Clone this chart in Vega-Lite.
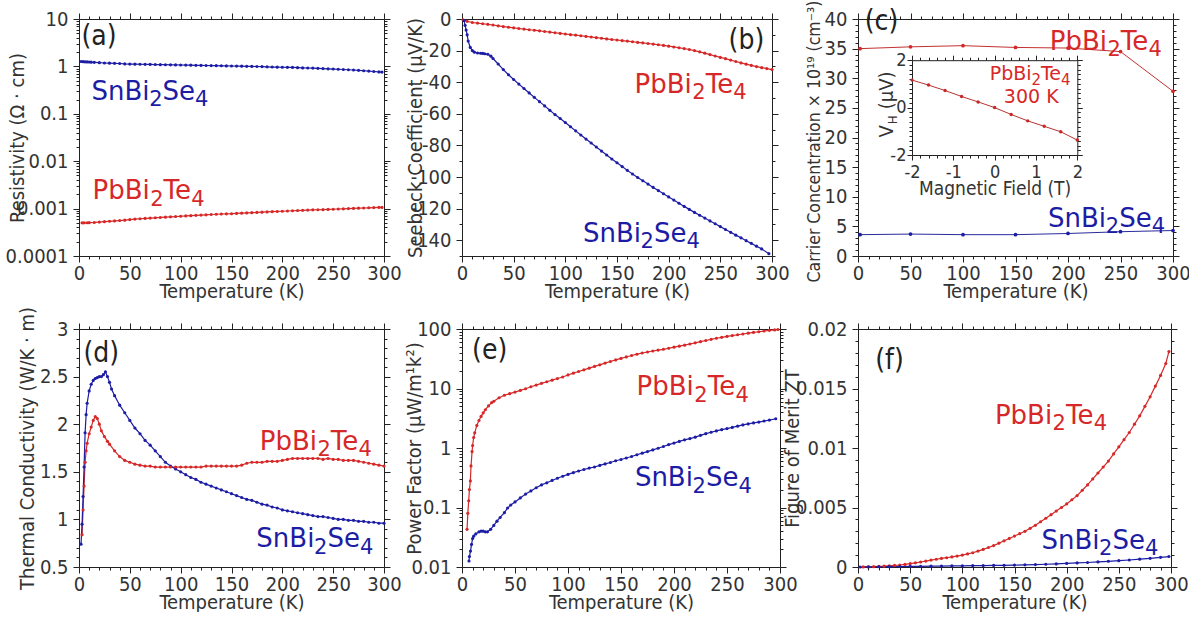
{
"$schema": "https://vega.github.io/schema/vega-lite/v6.json",
"background": "white",
"padding": {"left": 5, "top": 0, "right": 0, "bottom": 0},
"config": {
 "font": "DejaVu Sans Condensed, Liberation Sans, sans-serif",
 "view": {"stroke": null},
 "axis": {"grid": false, "ticks": true, "tickSize": 6, "labelFontSize": 20, "titleFontSize": 20, "titleFontWeight": "normal", "labelColor": "#333333", "titleColor": "#333333", "domainColor": "#222222", "tickColor": "#222222", "labelFlush": false, "labelOverlap": false, "labelBound": false, "domainWidth": 1, "tickWidth": 1},
 "axisX": {"labelPadding": 1},
 "axisY": {"labelPadding": 5}
},
"datasets": {
 "da": [
  {"s":"Sn","T":2,"v":1.27},{"s":"Sn","T":4,"v":1.26},{"s":"Sn","T":6,"v":1.25},{"s":"Sn","T":8,"v":1.245},{"s":"Sn","T":10,"v":1.24},{"s":"Sn","T":12,"v":1.23},{"s":"Sn","T":15,"v":1.22},{"s":"Sn","T":20,"v":1.2},{"s":"Sn","T":25,"v":1.18},{"s":"Sn","T":30,"v":1.17},{"s":"Sn","T":35,"v":1.16},{"s":"Sn","T":40,"v":1.15},{"s":"Sn","T":45,"v":1.13},{"s":"Sn","T":50,"v":1.12},{"s":"Sn","T":55,"v":1.115},{"s":"Sn","T":60,"v":1.11},{"s":"Sn","T":65,"v":1.105},{"s":"Sn","T":70,"v":1.1},{"s":"Sn","T":75,"v":1.095},{"s":"Sn","T":80,"v":1.09},{"s":"Sn","T":85,"v":1.085},{"s":"Sn","T":90,"v":1.08},{"s":"Sn","T":95,"v":1.075},{"s":"Sn","T":100,"v":1.07},{"s":"Sn","T":105,"v":1.065},{"s":"Sn","T":110,"v":1.06},{"s":"Sn","T":115,"v":1.055},{"s":"Sn","T":120,"v":1.05},{"s":"Sn","T":125,"v":1.045},{"s":"Sn","T":130,"v":1.04},{"s":"Sn","T":135,"v":1.035},{"s":"Sn","T":140,"v":1.03},{"s":"Sn","T":145,"v":1.025},{"s":"Sn","T":150,"v":1.02},{"s":"Sn","T":155,"v":1.015},{"s":"Sn","T":160,"v":1.01},{"s":"Sn","T":165,"v":1.005},{"s":"Sn","T":170,"v":1.0},{"s":"Sn","T":175,"v":0.995},{"s":"Sn","T":180,"v":0.99},{"s":"Sn","T":185,"v":0.98},{"s":"Sn","T":190,"v":0.97},{"s":"Sn","T":195,"v":0.965},{"s":"Sn","T":200,"v":0.96},{"s":"Sn","T":205,"v":0.955},{"s":"Sn","T":210,"v":0.95},{"s":"Sn","T":215,"v":0.94},{"s":"Sn","T":220,"v":0.93},{"s":"Sn","T":225,"v":0.925},{"s":"Sn","T":230,"v":0.92},{"s":"Sn","T":235,"v":0.91},{"s":"Sn","T":240,"v":0.9},{"s":"Sn","T":245,"v":0.89},{"s":"Sn","T":250,"v":0.88},{"s":"Sn","T":255,"v":0.87},{"s":"Sn","T":260,"v":0.86},{"s":"Sn","T":265,"v":0.85},{"s":"Sn","T":270,"v":0.84},{"s":"Sn","T":275,"v":0.825},{"s":"Sn","T":280,"v":0.81},{"s":"Sn","T":285,"v":0.795},{"s":"Sn","T":290,"v":0.78},{"s":"Sn","T":295,"v":0.765},{"s":"Sn","T":298,"v":0.76},
  {"s":"Pb","T":3,"v":0.0005},{"s":"Pb","T":5,"v":0.0005},{"s":"Pb","T":8,"v":0.000502},{"s":"Pb","T":10,"v":0.000505},{"s":"Pb","T":15,"v":0.00051},{"s":"Pb","T":20,"v":0.00052},{"s":"Pb","T":25,"v":0.00053},{"s":"Pb","T":30,"v":0.00054},{"s":"Pb","T":35,"v":0.00055},{"s":"Pb","T":40,"v":0.00056},{"s":"Pb","T":45,"v":0.00057},{"s":"Pb","T":50,"v":0.000586},{"s":"Pb","T":55,"v":0.0006},{"s":"Pb","T":60,"v":0.00061},{"s":"Pb","T":65,"v":0.00062},{"s":"Pb","T":70,"v":0.00063},{"s":"Pb","T":75,"v":0.00064},{"s":"Pb","T":80,"v":0.00065},{"s":"Pb","T":85,"v":0.00066},{"s":"Pb","T":90,"v":0.00067},{"s":"Pb","T":95,"v":0.00068},{"s":"Pb","T":100,"v":0.00069},{"s":"Pb","T":105,"v":0.0007},{"s":"Pb","T":110,"v":0.00071},{"s":"Pb","T":115,"v":0.00072},{"s":"Pb","T":120,"v":0.00073},{"s":"Pb","T":125,"v":0.00074},{"s":"Pb","T":130,"v":0.00075},{"s":"Pb","T":135,"v":0.00076},{"s":"Pb","T":140,"v":0.00077},{"s":"Pb","T":145,"v":0.000775},{"s":"Pb","T":150,"v":0.00078},{"s":"Pb","T":155,"v":0.00079},{"s":"Pb","T":160,"v":0.0008},{"s":"Pb","T":165,"v":0.00081},{"s":"Pb","T":170,"v":0.00082},{"s":"Pb","T":175,"v":0.00083},{"s":"Pb","T":180,"v":0.00084},{"s":"Pb","T":185,"v":0.00085},{"s":"Pb","T":190,"v":0.00086},{"s":"Pb","T":195,"v":0.00087},{"s":"Pb","T":200,"v":0.00088},{"s":"Pb","T":205,"v":0.00089},{"s":"Pb","T":210,"v":0.0009},{"s":"Pb","T":215,"v":0.00091},{"s":"Pb","T":220,"v":0.00092},{"s":"Pb","T":225,"v":0.00093},{"s":"Pb","T":230,"v":0.00094},{"s":"Pb","T":235,"v":0.000945},{"s":"Pb","T":240,"v":0.00095},{"s":"Pb","T":245,"v":0.00096},{"s":"Pb","T":250,"v":0.00097},{"s":"Pb","T":255,"v":0.00098},{"s":"Pb","T":260,"v":0.00099},{"s":"Pb","T":265,"v":0.001},{"s":"Pb","T":270,"v":0.00101},{"s":"Pb","T":275,"v":0.00102},{"s":"Pb","T":280,"v":0.00103},{"s":"Pb","T":285,"v":0.00104},{"s":"Pb","T":290,"v":0.00105},{"s":"Pb","T":295,"v":0.00106},{"s":"Pb","T":298,"v":0.00106}
 ],
 "db": [
  {"s":"Pb","T":1,"v":-0.5},{"s":"Pb","T":5,"v":-1.5},{"s":"Pb","T":10,"v":-2.2},{"s":"Pb","T":15,"v":-2.6},{"s":"Pb","T":20,"v":-3.0},{"s":"Pb","T":25,"v":-3.4},{"s":"Pb","T":30,"v":-3.8},{"s":"Pb","T":35,"v":-4.3},{"s":"Pb","T":40,"v":-4.8},{"s":"Pb","T":45,"v":-5.2},{"s":"Pb","T":50,"v":-5.6},{"s":"Pb","T":55,"v":-6.0},{"s":"Pb","T":60,"v":-6.4},{"s":"Pb","T":65,"v":-6.8},{"s":"Pb","T":70,"v":-7.1},{"s":"Pb","T":75,"v":-7.5},{"s":"Pb","T":80,"v":-7.9},{"s":"Pb","T":85,"v":-8.3},{"s":"Pb","T":90,"v":-8.7},{"s":"Pb","T":95,"v":-9.1},{"s":"Pb","T":100,"v":-9.5},{"s":"Pb","T":105,"v":-9.9},{"s":"Pb","T":110,"v":-10.2},{"s":"Pb","T":115,"v":-10.6},{"s":"Pb","T":120,"v":-11.0},{"s":"Pb","T":125,"v":-11.4},{"s":"Pb","T":130,"v":-11.8},{"s":"Pb","T":135,"v":-12.2},{"s":"Pb","T":140,"v":-12.6},{"s":"Pb","T":145,"v":-13.0},{"s":"Pb","T":150,"v":-13.3},{"s":"Pb","T":155,"v":-13.7},{"s":"Pb","T":160,"v":-14.0},{"s":"Pb","T":165,"v":-14.4},{"s":"Pb","T":170,"v":-14.8},{"s":"Pb","T":175,"v":-15.1},{"s":"Pb","T":180,"v":-15.5},{"s":"Pb","T":185,"v":-15.9},{"s":"Pb","T":190,"v":-16.3},{"s":"Pb","T":195,"v":-16.7},{"s":"Pb","T":200,"v":-17.2},{"s":"Pb","T":205,"v":-17.7},{"s":"Pb","T":210,"v":-18.2},{"s":"Pb","T":215,"v":-18.7},{"s":"Pb","T":220,"v":-19.3},{"s":"Pb","T":225,"v":-20.0},{"s":"Pb","T":230,"v":-20.8},{"s":"Pb","T":235,"v":-21.6},{"s":"Pb","T":240,"v":-22.5},{"s":"Pb","T":245,"v":-23.4},{"s":"Pb","T":250,"v":-24.3},{"s":"Pb","T":255,"v":-25.1},{"s":"Pb","T":260,"v":-26.0},{"s":"Pb","T":265,"v":-26.9},{"s":"Pb","T":270,"v":-27.8},{"s":"Pb","T":275,"v":-28.6},{"s":"Pb","T":280,"v":-29.4},{"s":"Pb","T":285,"v":-30.1},{"s":"Pb","T":290,"v":-30.8},{"s":"Pb","T":295,"v":-31.4},{"s":"Pb","T":300,"v":-32.0},
  {"s":"Sn","T":2,"v":-1},{"s":"Sn","T":3,"v":-4},{"s":"Sn","T":4,"v":-7},{"s":"Sn","T":5,"v":-10},{"s":"Sn","T":6,"v":-14},{"s":"Sn","T":8,"v":-18},{"s":"Sn","T":10,"v":-20},{"s":"Sn","T":12,"v":-21},{"s":"Sn","T":15,"v":-21.5},{"s":"Sn","T":18,"v":-21.7},{"s":"Sn","T":20,"v":-21.8},{"s":"Sn","T":22,"v":-22},{"s":"Sn","T":25,"v":-22.3},{"s":"Sn","T":28,"v":-23.5},{"s":"Sn","T":30,"v":-25},{"s":"Sn","T":35,"v":-28.5},{"s":"Sn","T":40,"v":-32},{"s":"Sn","T":45,"v":-35.3},{"s":"Sn","T":50,"v":-38.3},{"s":"Sn","T":55,"v":-41.2},{"s":"Sn","T":60,"v":-44},{"s":"Sn","T":65,"v":-46.8},{"s":"Sn","T":70,"v":-49.6},{"s":"Sn","T":75,"v":-52.3},{"s":"Sn","T":80,"v":-55},{"s":"Sn","T":85,"v":-57.8},{"s":"Sn","T":90,"v":-60.5},{"s":"Sn","T":95,"v":-63},{"s":"Sn","T":100,"v":-65.5},{"s":"Sn","T":105,"v":-68.2},{"s":"Sn","T":110,"v":-70.8},{"s":"Sn","T":115,"v":-73.4},{"s":"Sn","T":120,"v":-76},{"s":"Sn","T":125,"v":-78.5},{"s":"Sn","T":130,"v":-81},{"s":"Sn","T":135,"v":-83.6},{"s":"Sn","T":140,"v":-86.1},{"s":"Sn","T":145,"v":-88.6},{"s":"Sn","T":150,"v":-91},{"s":"Sn","T":155,"v":-93.4},{"s":"Sn","T":160,"v":-95.8},{"s":"Sn","T":165,"v":-98.1},{"s":"Sn","T":170,"v":-100.3},{"s":"Sn","T":175,"v":-102.4},{"s":"Sn","T":180,"v":-104.5},{"s":"Sn","T":185,"v":-106.6},{"s":"Sn","T":190,"v":-108.6},{"s":"Sn","T":195,"v":-110.6},{"s":"Sn","T":200,"v":-112.6},{"s":"Sn","T":205,"v":-114.6},{"s":"Sn","T":210,"v":-116.6},{"s":"Sn","T":215,"v":-118.6},{"s":"Sn","T":220,"v":-120.5},{"s":"Sn","T":225,"v":-122.4},{"s":"Sn","T":230,"v":-124.2},{"s":"Sn","T":235,"v":-126},{"s":"Sn","T":240,"v":-127.8},{"s":"Sn","T":245,"v":-129.6},{"s":"Sn","T":250,"v":-131.4},{"s":"Sn","T":255,"v":-133.2},{"s":"Sn","T":260,"v":-135},{"s":"Sn","T":265,"v":-136.8},{"s":"Sn","T":270,"v":-138.5},{"s":"Sn","T":275,"v":-140.3},{"s":"Sn","T":280,"v":-142},{"s":"Sn","T":285,"v":-143.8},{"s":"Sn","T":290,"v":-145.5},{"s":"Sn","T":297,"v":-148.5}
 ],
 "dc": [
  {"s":"Pb","T":2,"v":35.0},{"s":"Pb","T":50,"v":35.3},{"s":"Pb","T":100,"v":35.5},{"s":"Pb","T":150,"v":35.2},{"s":"Pb","T":200,"v":35.1},{"s":"Pb","T":250,"v":34.5},{"s":"Pb","T":300,"v":27.8},
  {"s":"Sn","T":2,"v":3.6},{"s":"Sn","T":50,"v":3.7},{"s":"Sn","T":100,"v":3.6},{"s":"Sn","T":150,"v":3.6},{"s":"Sn","T":200,"v":3.8},{"s":"Sn","T":250,"v":4.1},{"s":"Sn","T":300,"v":4.3}
 ],
 "ins": [
  {"B":-2,"V":1.16},{"B":-1.6,"V":0.95},{"B":-1.2,"V":0.72},{"B":-0.8,"V":0.47},{"B":-0.4,"V":0.24},{"B":0,"V":0},{"B":0.4,"V":-0.29},{"B":0.8,"V":-0.56},{"B":1.2,"V":-0.79},{"B":1.6,"V":-1.02},{"B":2,"V":-1.37}
 ],
 "insf": [{"a":"PbBi","b":"2","c":"Te","d":"4","B":-0.12,"V":1.15}],
 "insk": [{"t":"300 K","B":0.885,"V":0.19}],
 "vh": [{"t":"V","B":-2.46,"V":-1.26},{"t":"(μV)","B":-2.46,"V":-0.067}],
 "vhs": [{"t":"H","B":-2.364,"V":-0.70}],
 "dd": [
  {"s":"Sn","T":2,"v":0.74},{"s":"Sn","T":3,"v":0.95},{"s":"Sn","T":4,"v":1.24},{"s":"Sn","T":5,"v":1.55},{"s":"Sn","T":6,"v":1.91},{"s":"Sn","T":7,"v":2.1},{"s":"Sn","T":8,"v":2.22},{"s":"Sn","T":10,"v":2.35},{"s":"Sn","T":12,"v":2.42},{"s":"Sn","T":14,"v":2.46},{"s":"Sn","T":16,"v":2.48},{"s":"Sn","T":18,"v":2.49},{"s":"Sn","T":20,"v":2.5},{"s":"Sn","T":22,"v":2.5},{"s":"Sn","T":24,"v":2.52},{"s":"Sn","T":26,"v":2.55},{"s":"Sn","T":28,"v":2.5},{"s":"Sn","T":30,"v":2.44},{"s":"Sn","T":32,"v":2.37},{"s":"Sn","T":35,"v":2.3},{"s":"Sn","T":40,"v":2.2},{"s":"Sn","T":45,"v":2.12},{"s":"Sn","T":50,"v":2.04},{"s":"Sn","T":55,"v":1.96},{"s":"Sn","T":60,"v":1.9},{"s":"Sn","T":65,"v":1.83},{"s":"Sn","T":70,"v":1.78},{"s":"Sn","T":75,"v":1.72},{"s":"Sn","T":80,"v":1.66},{"s":"Sn","T":85,"v":1.6},{"s":"Sn","T":90,"v":1.56},{"s":"Sn","T":95,"v":1.53},{"s":"Sn","T":100,"v":1.5},{"s":"Sn","T":105,"v":1.47},{"s":"Sn","T":110,"v":1.44},{"s":"Sn","T":115,"v":1.42},{"s":"Sn","T":120,"v":1.39},{"s":"Sn","T":125,"v":1.37},{"s":"Sn","T":130,"v":1.35},{"s":"Sn","T":135,"v":1.33},{"s":"Sn","T":140,"v":1.31},{"s":"Sn","T":145,"v":1.29},{"s":"Sn","T":150,"v":1.27},{"s":"Sn","T":155,"v":1.25},{"s":"Sn","T":160,"v":1.23},{"s":"Sn","T":165,"v":1.21},{"s":"Sn","T":170,"v":1.2},{"s":"Sn","T":175,"v":1.18},{"s":"Sn","T":180,"v":1.16},{"s":"Sn","T":185,"v":1.15},{"s":"Sn","T":190,"v":1.13},{"s":"Sn","T":195,"v":1.12},{"s":"Sn","T":200,"v":1.1},{"s":"Sn","T":205,"v":1.09},{"s":"Sn","T":210,"v":1.08},{"s":"Sn","T":215,"v":1.07},{"s":"Sn","T":220,"v":1.06},{"s":"Sn","T":225,"v":1.05},{"s":"Sn","T":230,"v":1.04},{"s":"Sn","T":235,"v":1.03},{"s":"Sn","T":240,"v":1.03},{"s":"Sn","T":245,"v":1.02},{"s":"Sn","T":250,"v":1.01},{"s":"Sn","T":255,"v":1.0},{"s":"Sn","T":260,"v":1.0},{"s":"Sn","T":265,"v":0.99},{"s":"Sn","T":270,"v":0.99},{"s":"Sn","T":275,"v":0.98},{"s":"Sn","T":280,"v":0.98},{"s":"Sn","T":285,"v":0.97},{"s":"Sn","T":290,"v":0.97},{"s":"Sn","T":295,"v":0.96},{"s":"Sn","T":300,"v":0.96},
  {"s":"Pb","T":3,"v":0.84},{"s":"Pb","T":4,"v":1.1},{"s":"Pb","T":5,"v":1.35},{"s":"Pb","T":6,"v":1.6},{"s":"Pb","T":7,"v":1.72},{"s":"Pb","T":8,"v":1.8},{"s":"Pb","T":10,"v":1.9},{"s":"Pb","T":12,"v":1.97},{"s":"Pb","T":14,"v":2.04},{"s":"Pb","T":16,"v":2.08},{"s":"Pb","T":18,"v":2.06},{"s":"Pb","T":20,"v":2.0},{"s":"Pb","T":22,"v":1.93},{"s":"Pb","T":25,"v":1.87},{"s":"Pb","T":28,"v":1.82},{"s":"Pb","T":30,"v":1.79},{"s":"Pb","T":35,"v":1.72},{"s":"Pb","T":40,"v":1.66},{"s":"Pb","T":45,"v":1.62},{"s":"Pb","T":50,"v":1.6},{"s":"Pb","T":55,"v":1.58},{"s":"Pb","T":60,"v":1.57},{"s":"Pb","T":65,"v":1.56},{"s":"Pb","T":70,"v":1.56},{"s":"Pb","T":75,"v":1.55},{"s":"Pb","T":80,"v":1.55},{"s":"Pb","T":85,"v":1.55},{"s":"Pb","T":90,"v":1.55},{"s":"Pb","T":95,"v":1.55},{"s":"Pb","T":100,"v":1.55},{"s":"Pb","T":105,"v":1.55},{"s":"Pb","T":110,"v":1.55},{"s":"Pb","T":115,"v":1.55},{"s":"Pb","T":120,"v":1.55},{"s":"Pb","T":125,"v":1.56},{"s":"Pb","T":130,"v":1.56},{"s":"Pb","T":135,"v":1.56},{"s":"Pb","T":140,"v":1.56},{"s":"Pb","T":145,"v":1.56},{"s":"Pb","T":150,"v":1.56},{"s":"Pb","T":155,"v":1.56},{"s":"Pb","T":160,"v":1.57},{"s":"Pb","T":165,"v":1.59},{"s":"Pb","T":170,"v":1.6},{"s":"Pb","T":175,"v":1.6},{"s":"Pb","T":180,"v":1.6},{"s":"Pb","T":185,"v":1.61},{"s":"Pb","T":190,"v":1.61},{"s":"Pb","T":195,"v":1.61},{"s":"Pb","T":200,"v":1.62},{"s":"Pb","T":205,"v":1.63},{"s":"Pb","T":210,"v":1.64},{"s":"Pb","T":215,"v":1.64},{"s":"Pb","T":220,"v":1.64},{"s":"Pb","T":225,"v":1.64},{"s":"Pb","T":230,"v":1.64},{"s":"Pb","T":235,"v":1.64},{"s":"Pb","T":240,"v":1.63},{"s":"Pb","T":245,"v":1.64},{"s":"Pb","T":250,"v":1.63},{"s":"Pb","T":255,"v":1.63},{"s":"Pb","T":260,"v":1.62},{"s":"Pb","T":265,"v":1.62},{"s":"Pb","T":270,"v":1.62},{"s":"Pb","T":275,"v":1.61},{"s":"Pb","T":280,"v":1.6},{"s":"Pb","T":285,"v":1.59},{"s":"Pb","T":290,"v":1.58},{"s":"Pb","T":295,"v":1.57},{"s":"Pb","T":300,"v":1.56}
 ],
 "de": [
  {"s":"Pb","T":4.75,"v":0.043},{"s":"Pb","T":5.5,"v":0.08},{"s":"Pb","T":6.3,"v":0.13},{"s":"Pb","T":7,"v":0.2},{"s":"Pb","T":7.9,"v":0.28},{"s":"Pb","T":8.5,"v":0.5},{"s":"Pb","T":9.5,"v":0.87},{"s":"Pb","T":10,"v":1.1},{"s":"Pb","T":11,"v":1.5},{"s":"Pb","T":12,"v":1.8},{"s":"Pb","T":14,"v":2.4},{"s":"Pb","T":16,"v":2.9},{"s":"Pb","T":18,"v":3.4},{"s":"Pb","T":20,"v":3.9},{"s":"Pb","T":22,"v":4.4},{"s":"Pb","T":25,"v":5.1},{"s":"Pb","T":28,"v":5.8},{"s":"Pb","T":30,"v":6.1},{"s":"Pb","T":35,"v":7.0},{"s":"Pb","T":40,"v":7.7},{"s":"Pb","T":45,"v":8.2},{"s":"Pb","T":50,"v":8.7},{"s":"Pb","T":55,"v":9.3},{"s":"Pb","T":60,"v":9.9},{"s":"Pb","T":65,"v":10.7},{"s":"Pb","T":70,"v":11.4},{"s":"Pb","T":75,"v":12.2},{"s":"Pb","T":80,"v":13.0},{"s":"Pb","T":85,"v":13.8},{"s":"Pb","T":90,"v":14.7},{"s":"Pb","T":95,"v":15.6},{"s":"Pb","T":100,"v":16.9},{"s":"Pb","T":105,"v":18.1},{"s":"Pb","T":110,"v":19.3},{"s":"Pb","T":115,"v":20.6},{"s":"Pb","T":120,"v":22},{"s":"Pb","T":125,"v":23.5},{"s":"Pb","T":130,"v":25},{"s":"Pb","T":135,"v":26.7},{"s":"Pb","T":140,"v":28.4},{"s":"Pb","T":145,"v":30.2},{"s":"Pb","T":150,"v":32},{"s":"Pb","T":155,"v":33.9},{"s":"Pb","T":160,"v":35.8},{"s":"Pb","T":165,"v":37.7},{"s":"Pb","T":170,"v":39.5},{"s":"Pb","T":175,"v":41.1},{"s":"Pb","T":180,"v":42.7},{"s":"Pb","T":185,"v":44.2},{"s":"Pb","T":190,"v":45.6},{"s":"Pb","T":195,"v":47.5},{"s":"Pb","T":200,"v":49.5},{"s":"Pb","T":205,"v":51.5},{"s":"Pb","T":210,"v":53.5},{"s":"Pb","T":215,"v":56},{"s":"Pb","T":220,"v":58.5},{"s":"Pb","T":225,"v":61.2},{"s":"Pb","T":230,"v":64},{"s":"Pb","T":235,"v":67},{"s":"Pb","T":240,"v":70},{"s":"Pb","T":245,"v":72.5},{"s":"Pb","T":250,"v":75},{"s":"Pb","T":255,"v":77.5},{"s":"Pb","T":260,"v":80},{"s":"Pb","T":265,"v":82.5},{"s":"Pb","T":270,"v":85},{"s":"Pb","T":275,"v":87.5},{"s":"Pb","T":280,"v":90},{"s":"Pb","T":285,"v":92.5},{"s":"Pb","T":290,"v":95},{"s":"Pb","T":295,"v":96.5},{"s":"Pb","T":298,"v":98},
  {"s":"Sn","T":6.6,"v":0.0126},{"s":"Sn","T":7,"v":0.015},{"s":"Sn","T":8,"v":0.0185},{"s":"Sn","T":9,"v":0.024},{"s":"Sn","T":10,"v":0.03},{"s":"Sn","T":11,"v":0.033},{"s":"Sn","T":13,"v":0.036},{"s":"Sn","T":16,"v":0.039},{"s":"Sn","T":18,"v":0.04},{"s":"Sn","T":20,"v":0.04},{"s":"Sn","T":22,"v":0.039},{"s":"Sn","T":24,"v":0.039},{"s":"Sn","T":27,"v":0.043},{"s":"Sn","T":30,"v":0.05},{"s":"Sn","T":33,"v":0.059},{"s":"Sn","T":36,"v":0.068},{"s":"Sn","T":40,"v":0.082},{"s":"Sn","T":43,"v":0.098},{"s":"Sn","T":46,"v":0.11},{"s":"Sn","T":50,"v":0.124},{"s":"Sn","T":55,"v":0.145},{"s":"Sn","T":60,"v":0.168},{"s":"Sn","T":65,"v":0.19},{"s":"Sn","T":70,"v":0.215},{"s":"Sn","T":75,"v":0.24},{"s":"Sn","T":80,"v":0.26},{"s":"Sn","T":85,"v":0.285},{"s":"Sn","T":90,"v":0.31},{"s":"Sn","T":95,"v":0.335},{"s":"Sn","T":100,"v":0.36},{"s":"Sn","T":105,"v":0.385},{"s":"Sn","T":110,"v":0.41},{"s":"Sn","T":115,"v":0.435},{"s":"Sn","T":120,"v":0.46},{"s":"Sn","T":125,"v":0.48},{"s":"Sn","T":130,"v":0.51},{"s":"Sn","T":135,"v":0.54},{"s":"Sn","T":140,"v":0.57},{"s":"Sn","T":145,"v":0.61},{"s":"Sn","T":150,"v":0.64},{"s":"Sn","T":155,"v":0.68},{"s":"Sn","T":160,"v":0.72},{"s":"Sn","T":165,"v":0.77},{"s":"Sn","T":170,"v":0.82},{"s":"Sn","T":175,"v":0.87},{"s":"Sn","T":180,"v":0.93},{"s":"Sn","T":185,"v":0.99},{"s":"Sn","T":190,"v":1.06},{"s":"Sn","T":195,"v":1.14},{"s":"Sn","T":200,"v":1.21},{"s":"Sn","T":205,"v":1.29},{"s":"Sn","T":210,"v":1.37},{"s":"Sn","T":215,"v":1.44},{"s":"Sn","T":220,"v":1.52},{"s":"Sn","T":225,"v":1.63},{"s":"Sn","T":230,"v":1.74},{"s":"Sn","T":235,"v":1.84},{"s":"Sn","T":240,"v":1.94},{"s":"Sn","T":245,"v":2.03},{"s":"Sn","T":250,"v":2.12},{"s":"Sn","T":255,"v":2.22},{"s":"Sn","T":260,"v":2.33},{"s":"Sn","T":265,"v":2.44},{"s":"Sn","T":270,"v":2.54},{"s":"Sn","T":275,"v":2.64},{"s":"Sn","T":280,"v":2.73},{"s":"Sn","T":285,"v":2.84},{"s":"Sn","T":290,"v":2.95},{"s":"Sn","T":296,"v":3.1}
 ],
 "df": [
  {"s":"Pb","T":5,"v":0.00001},{"s":"Pb","T":10,"v":0.00002},{"s":"Pb","T":15,"v":0.00003},{"s":"Pb","T":20,"v":0.00005},{"s":"Pb","T":25,"v":0.00007},{"s":"Pb","T":30,"v":0.0001},{"s":"Pb","T":35,"v":0.00013},{"s":"Pb","T":40,"v":0.00017},{"s":"Pb","T":45,"v":0.00022},{"s":"Pb","T":50,"v":0.00028},{"s":"Pb","T":55,"v":0.00035},{"s":"Pb","T":60,"v":0.00042},{"s":"Pb","T":65,"v":0.0005},{"s":"Pb","T":70,"v":0.00058},{"s":"Pb","T":75,"v":0.00065},{"s":"Pb","T":80,"v":0.00072},{"s":"Pb","T":85,"v":0.00078},{"s":"Pb","T":90,"v":0.00085},{"s":"Pb","T":95,"v":0.00092},{"s":"Pb","T":100,"v":0.001},{"s":"Pb","T":105,"v":0.0011},{"s":"Pb","T":110,"v":0.0012},{"s":"Pb","T":115,"v":0.00134},{"s":"Pb","T":120,"v":0.00148},{"s":"Pb","T":125,"v":0.00164},{"s":"Pb","T":130,"v":0.0018},{"s":"Pb","T":135,"v":0.002},{"s":"Pb","T":140,"v":0.0022},{"s":"Pb","T":145,"v":0.0024},{"s":"Pb","T":150,"v":0.0026},{"s":"Pb","T":155,"v":0.0028},{"s":"Pb","T":160,"v":0.003},{"s":"Pb","T":165,"v":0.00325},{"s":"Pb","T":170,"v":0.0035},{"s":"Pb","T":175,"v":0.0038},{"s":"Pb","T":180,"v":0.0041},{"s":"Pb","T":185,"v":0.0044},{"s":"Pb","T":190,"v":0.0047},{"s":"Pb","T":195,"v":0.005},{"s":"Pb","T":200,"v":0.0053},{"s":"Pb","T":205,"v":0.00565},{"s":"Pb","T":210,"v":0.006},{"s":"Pb","T":215,"v":0.00645},{"s":"Pb","T":220,"v":0.0069},{"s":"Pb","T":225,"v":0.0074},{"s":"Pb","T":230,"v":0.0079},{"s":"Pb","T":235,"v":0.0084},{"s":"Pb","T":240,"v":0.0089},{"s":"Pb","T":245,"v":0.0095},{"s":"Pb","T":250,"v":0.0101},{"s":"Pb","T":255,"v":0.0107},{"s":"Pb","T":260,"v":0.0113},{"s":"Pb","T":265,"v":0.012},{"s":"Pb","T":270,"v":0.0127},{"s":"Pb","T":275,"v":0.0135},{"s":"Pb","T":280,"v":0.0143},{"s":"Pb","T":285,"v":0.0152},{"s":"Pb","T":290,"v":0.0161},{"s":"Pb","T":295,"v":0.0171},{"s":"Pb","T":298,"v":0.0181},
  {"s":"Sn","T":2,"v":0},{"s":"Sn","T":10,"v":0.00001},{"s":"Sn","T":20,"v":0.00002},{"s":"Sn","T":30,"v":0.00003},{"s":"Sn","T":40,"v":0.00004},{"s":"Sn","T":50,"v":0.00005},{"s":"Sn","T":60,"v":0.00006},{"s":"Sn","T":70,"v":0.00007},{"s":"Sn","T":80,"v":0.00008},{"s":"Sn","T":90,"v":0.00009},{"s":"Sn","T":100,"v":0.0001},{"s":"Sn","T":110,"v":0.00011},{"s":"Sn","T":120,"v":0.00012},{"s":"Sn","T":130,"v":0.00013},{"s":"Sn","T":140,"v":0.00014},{"s":"Sn","T":150,"v":0.00016},{"s":"Sn","T":160,"v":0.00018},{"s":"Sn","T":170,"v":0.0002},{"s":"Sn","T":180,"v":0.00023},{"s":"Sn","T":190,"v":0.00026},{"s":"Sn","T":200,"v":0.0003},{"s":"Sn","T":210,"v":0.00034},{"s":"Sn","T":220,"v":0.00038},{"s":"Sn","T":230,"v":0.00043},{"s":"Sn","T":240,"v":0.00048},{"s":"Sn","T":250,"v":0.00053},{"s":"Sn","T":260,"v":0.00059},{"s":"Sn","T":270,"v":0.00066},{"s":"Sn","T":280,"v":0.00073},{"s":"Sn","T":290,"v":0.00081},{"s":"Sn","T":298,"v":0.00088}
 ],
 "lab": [
  {"p":"a","k":"l","s":"k","t":"(a)","T":2.5,"v":2.8},
  {"p":"a","k":"f","s":"Sn","a":"SnBi","b":"2","c":"Se","d":"4","T":12.3,"v":0.198},
  {"p":"a","k":"f","s":"Pb","a":"PbBi","b":"2","c":"Te","d":"4","T":13.3,"v":0.00158},
  {"p":"b","k":"l","s":"k","t":"(b)","T":258,"v":-19.3},
  {"p":"b","k":"f","s":"Pb","a":"PbBi","b":"2","c":"Te","d":"4","T":167,"v":-46.8},
  {"p":"b","k":"f","s":"Sn","a":"SnBi","b":"2","c":"Se","d":"4","T":117,"v":-141},
  {"p":"c","k":"l","s":"k","t":"(c)","T":6.4,"v":38.2},
  {"p":"c","k":"f","s":"Pb","a":"PbBi","b":"2","c":"Te","d":"4","T":182.6,"v":34.85},
  {"p":"c","k":"f","s":"Sn","a":"SnBi","b":"2","c":"Se","d":"4","T":181,"v":4.9},
  {"p":"d","k":"l","s":"k","t":"(d)","T":4.4,"v":2.655},
  {"p":"d","k":"f","s":"Pb","a":"PbBi","b":"2","c":"Te","d":"4","T":177.8,"v":1.734},
  {"p":"d","k":"f","s":"Sn","a":"SnBi","b":"2","c":"Se","d":"4","T":174.4,"v":0.705},
  {"p":"e","k":"l","s":"k","t":"(e)","T":9.5,"v":31.5},
  {"p":"e","k":"f","s":"Pb","a":"PbBi","b":"2","c":"Te","d":"4","T":164.7,"v":7.69},
  {"p":"e","k":"f","s":"Sn","a":"SnBi","b":"2","c":"Se","d":"4","T":163.1,"v":0.2255},
  {"p":"f","k":"l","s":"k","t":"(f)","T":16.5,"v":0.01664},
  {"p":"f","k":"f","s":"Pb","a":"PbBi","b":"2","c":"Te","d":"4","T":131.2,"v":0.01203},
  {"p":"f","k":"f","s":"Sn","a":"SnBi","b":"2","c":"Se","d":"4","T":175.8,"v":0.001544}
 ]
},
"concat": [
 {
  "width": 305, "height": 237, "data": {"name": "da"},
  "layer": [
   {"data": {"name": "lab"}, "transform": [{"filter": "datum.p=='a' && datum.k=='l'"}], "mark": {"type": "text", "align": "left", "baseline": "alphabetic", "fontSize": 28, "color": "#222222"},
    "encoding": {"x": {"field": "T", "type": "quantitative", "scale": {"domain": [0, 300], "nice": false, "zero": false}, "axis": null}, "y": {"field": "v", "type": "quantitative", "scale": {"type": "log", "domain": [0.0001, 10], "nice": false}, "axis": null}, "text": {"field": "t"}}},
   {"transform": [{"filter": "datum.s=='Pb'"}], "mark": {"type": "line", "color": "#d62828", "strokeWidth": 1.2},
    "encoding": {
     "x": {"field": "T", "type": "quantitative", "scale": {"domain": [0, 300], "nice": false, "zero": false}, "axis": {"orient": "bottom", "values": [0,50,100,150,200,250,300], "tickSize": 6, "tickColor": "#222222", "tickWidth": 1, "title": "Temperature (K)", "titleX": 152.5, "titleY": 41, "titleBaseline": "alphabetic", "titleAlign": "center"}},
     "y": {"field": "v", "type": "quantitative", "scale": {"type": "log", "domain": [0.0001, 10], "nice": false}, "axis": {"orient": "left", "values": [0.0001,0.001,0.01,0.1,1,10], "tickSize": 6, "tickColor": "#222222", "tickWidth": 1, "format": "~g", "title": "Resistivity (Ω · cm)", "titleX": -56, "titleY": 118.5, "titleBaseline": "alphabetic", "titleAlign": "center", "titleAngle": 270}}}},
   {"transform": [{"filter": "datum.s=='Sn'"}], "mark": {"type": "line", "color": "#1c1ca4", "strokeWidth": 1.2},
    "encoding": {
     "x": {"field": "T", "type": "quantitative", "scale": {"domain": [0, 300], "nice": false, "zero": false}, "axis": {"orient": "top", "values": [0,50,100,150,200,250,300], "tickSize": 6, "tickColor": "#222222", "tickWidth": 1, "labels": false, "title": null}},
     "y": {"field": "v", "type": "quantitative", "scale": {"type": "log", "domain": [0.0001, 10], "nice": false}, "axis": {"orient": "right", "values": [0.0001,0.001,0.01,0.1,1,10], "tickSize": 6, "tickColor": "#222222", "tickWidth": 1, "labels": false, "title": null}}}},
   {"mark": {"type": "point", "filled": true, "size": 10, "opacity": 1},
    "encoding": {
     "x": {"field": "T", "type": "quantitative", "scale": {"domain": [0, 300], "nice": false, "zero": false}, "axis": {"orient": "bottom", "values": [10,20,30,40,60,70,80,90,110,120,130,140,160,170,180,190,210,220,230,240,260,270,280,290], "labels": false, "title": null, "domain": false, "tickSize": 3, "tickColor": "#222222", "tickWidth": 1}},
     "y": {"field": "v", "type": "quantitative", "scale": {"type": "log", "domain": [0.0001, 10], "nice": false}, "axis": {"orient": "left", "values": [0.0002,0.0003,0.0004,0.0005,0.0006,0.0007,0.0008,0.0009,0.002,0.003,0.004,0.005,0.006,0.007,0.008,0.009,0.02,0.03,0.04,0.05,0.06,0.07,0.08,0.09,0.2,0.3,0.4,0.5,0.6,0.7,0.8,0.9,2,3,4,5,6,7,8,9], "labels": false, "title": null, "domain": false, "tickSize": 3, "tickColor": "#222222", "tickWidth": 1}},
     "color": {"field": "s", "type": "nominal", "scale": {"domain": ["Pb","Sn","k"], "range": ["#d62828","#1c1ca4","#222222"]}, "legend": null}}},
   {"mark": {"type": "point", "opacity": 0},
    "encoding": {
     "x": {"field": "T", "type": "quantitative", "scale": {"domain": [0, 300], "nice": false, "zero": false}, "axis": {"orient": "top", "values": [10,20,30,40,60,70,80,90,110,120,130,140,160,170,180,190,210,220,230,240,260,270,280,290], "labels": false, "title": null, "domain": false, "tickSize": 3, "tickColor": "#222222", "tickWidth": 1}},
     "y": {"field": "v", "type": "quantitative", "scale": {"type": "log", "domain": [0.0001, 10], "nice": false}, "axis": {"orient": "right", "values": [0.0002,0.0003,0.0004,0.0005,0.0006,0.0007,0.0008,0.0009,0.002,0.003,0.004,0.005,0.006,0.007,0.008,0.009,0.02,0.03,0.04,0.05,0.06,0.07,0.08,0.09,0.2,0.3,0.4,0.5,0.6,0.7,0.8,0.9,2,3,4,5,6,7,8,9], "labels": false, "title": null, "domain": false, "tickSize": 3, "tickColor": "#222222", "tickWidth": 1}}}},
   {"data": {"name": "lab"}, "transform": [{"filter": "datum.p=='a' && datum.k=='f'"}], "mark": {"type": "text", "align": "left", "baseline": "alphabetic", "font": "DejaVu Sans", "fontSize": 26},
    "encoding": {"x": {"field": "T", "type": "quantitative", "scale": {"domain": [0, 300], "nice": false, "zero": false}, "axis": null}, "y": {"field": "v", "type": "quantitative", "scale": {"type": "log", "domain": [0.0001, 10], "nice": false}, "axis": null}, "text": {"field": "a"}, "color": {"field": "s", "type": "nominal", "scale": {"domain": ["Pb","Sn","k"], "range": ["#d62828","#1c1ca4","#222222"]}, "legend": null}}},
   {"data": {"name": "lab"}, "transform": [{"filter": "datum.p=='a' && datum.k=='f'"}], "mark": {"type": "text", "align": "left", "baseline": "alphabetic", "font": "DejaVu Sans", "fontSize": 21, "dx": 57.7, "dy": 6.5},
    "encoding": {"x": {"field": "T", "type": "quantitative", "scale": {"domain": [0, 300], "nice": false, "zero": false}, "axis": null}, "y": {"field": "v", "type": "quantitative", "scale": {"type": "log", "domain": [0.0001, 10], "nice": false}, "axis": null}, "text": {"field": "b"}, "color": {"field": "s", "type": "nominal", "scale": {"domain": ["Pb","Sn","k"], "range": ["#d62828","#1c1ca4","#222222"]}, "legend": null}}},
   {"data": {"name": "lab"}, "transform": [{"filter": "datum.p=='a' && datum.k=='f'"}], "mark": {"type": "text", "align": "left", "baseline": "alphabetic", "font": "DejaVu Sans", "fontSize": 26, "dx": 71.1},
    "encoding": {"x": {"field": "T", "type": "quantitative", "scale": {"domain": [0, 300], "nice": false, "zero": false}, "axis": null}, "y": {"field": "v", "type": "quantitative", "scale": {"type": "log", "domain": [0.0001, 10], "nice": false}, "axis": null}, "text": {"field": "c"}, "color": {"field": "s", "type": "nominal", "scale": {"domain": ["Pb","Sn","k"], "range": ["#d62828","#1c1ca4","#222222"]}, "legend": null}}},
   {"data": {"name": "lab"}, "transform": [{"filter": "datum.p=='a' && datum.s=='Pb'"}], "mark": {"type": "text", "align": "left", "baseline": "alphabetic", "font": "DejaVu Sans", "fontSize": 21, "dx": 98.8, "dy": 6.5, "color": "#d62828"},
    "encoding": {"x": {"field": "T", "type": "quantitative", "scale": {"domain": [0, 300], "nice": false, "zero": false}, "axis": null}, "y": {"field": "v", "type": "quantitative", "scale": {"type": "log", "domain": [0.0001, 10], "nice": false}, "axis": null}, "text": {"field": "d"}}},
   {"data": {"name": "lab"}, "transform": [{"filter": "datum.p=='a' && datum.s=='Sn'"}], "mark": {"type": "text", "align": "left", "baseline": "alphabetic", "font": "DejaVu Sans", "fontSize": 21, "dx": 103.6, "dy": 6.5, "color": "#1c1ca4"},
    "encoding": {"x": {"field": "T", "type": "quantitative", "scale": {"domain": [0, 300], "nice": false, "zero": false}, "axis": null}, "y": {"field": "v", "type": "quantitative", "scale": {"type": "log", "domain": [0.0001, 10], "nice": false}, "axis": null}, "text": {"field": "d"}}}
  ],
  "resolve": {"axis": {"x": "independent", "y": "independent"}}
 },
 {
  "width": 310, "height": 237, "data": {"name": "db"},
  "layer": [
   {"data": {"name": "lab"}, "transform": [{"filter": "datum.p=='b' && datum.k=='l'"}], "mark": {"type": "text", "align": "left", "baseline": "alphabetic", "fontSize": 28, "color": "#222222"},
    "encoding": {"x": {"field": "T", "type": "quantitative", "scale": {"domain": [0, 300], "nice": false, "zero": false}, "axis": null}, "y": {"field": "v", "type": "quantitative", "scale": {"domain": [-150, 0], "nice": false, "zero": false}, "axis": null}, "text": {"field": "t"}}},
   {"transform": [{"filter": "datum.s=='Pb'"}], "mark": {"type": "line", "color": "#d62828", "strokeWidth": 1.2},
    "encoding": {
     "x": {"field": "T", "type": "quantitative", "scale": {"domain": [0, 300], "nice": false, "zero": false}, "axis": {"orient": "bottom", "values": [0,50,100,150,200,250,300], "tickSize": 6, "tickColor": "#222222", "tickWidth": 1, "title": "Temperature (K)", "titleX": 155, "titleY": 41, "titleBaseline": "alphabetic", "titleAlign": "center"}},
     "y": {"field": "v", "type": "quantitative", "scale": {"domain": [-150, 0], "nice": false, "zero": false}, "axis": {"orient": "left", "values": [0,-20,-40,-60,-80,-100,-120,-140], "tickSize": 6, "tickColor": "#222222", "tickWidth": 1, "labelExpr": "replace(datum.label,'−','-')", "title": "Seebeck Coefficient (μV/K)", "titleX": -40.7, "titleY": 118.5, "titleBaseline": "alphabetic", "titleAlign": "center", "titleAngle": 270}}}},
   {"transform": [{"filter": "datum.s=='Sn'"}], "mark": {"type": "line", "color": "#1c1ca4", "strokeWidth": 1.2},
    "encoding": {
     "x": {"field": "T", "type": "quantitative", "scale": {"domain": [0, 300], "nice": false, "zero": false}, "axis": {"orient": "top", "values": [0,50,100,150,200,250,300], "tickSize": 6, "tickColor": "#222222", "tickWidth": 1, "labels": false, "title": null}},
     "y": {"field": "v", "type": "quantitative", "scale": {"domain": [-150, 0], "nice": false, "zero": false}, "axis": {"orient": "right", "values": [0,-20,-40,-60,-80,-100,-120,-140], "tickSize": 6, "tickColor": "#222222", "tickWidth": 1, "labels": false, "title": null}}}},
   {"mark": {"type": "point", "filled": true, "size": 10, "opacity": 1},
    "encoding": {
     "x": {"field": "T", "type": "quantitative", "scale": {"domain": [0, 300], "nice": false, "zero": false}, "axis": {"orient": "bottom", "values": [10,20,30,40,60,70,80,90,110,120,130,140,160,170,180,190,210,220,230,240,260,270,280,290], "labels": false, "title": null, "domain": false, "tickSize": 3, "tickColor": "#222222", "tickWidth": 1}},
     "y": {"field": "v", "type": "quantitative", "scale": {"domain": [-150, 0], "nice": false, "zero": false}, "axis": {"orient": "left", "values": [-10,-30,-50,-70,-90,-110,-130,-150], "labels": false, "title": null, "domain": false, "tickSize": 3, "tickColor": "#222222", "tickWidth": 1}},
     "color": {"field": "s", "type": "nominal", "scale": {"domain": ["Pb","Sn","k"], "range": ["#d62828","#1c1ca4","#222222"]}, "legend": null}}},
   {"mark": {"type": "point", "opacity": 0},
    "encoding": {
     "x": {"field": "T", "type": "quantitative", "scale": {"domain": [0, 300], "nice": false, "zero": false}, "axis": {"orient": "top", "values": [10,20,30,40,60,70,80,90,110,120,130,140,160,170,180,190,210,220,230,240,260,270,280,290], "labels": false, "title": null, "domain": false, "tickSize": 3, "tickColor": "#222222", "tickWidth": 1}},
     "y": {"field": "v", "type": "quantitative", "scale": {"domain": [-150, 0], "nice": false, "zero": false}, "axis": {"orient": "right", "values": [-10,-30,-50,-70,-90,-110,-130,-150], "labels": false, "title": null, "domain": false, "tickSize": 3, "tickColor": "#222222", "tickWidth": 1}}}},
   {"data": {"name": "lab"}, "transform": [{"filter": "datum.p=='b' && datum.k=='f'"}], "mark": {"type": "text", "align": "left", "baseline": "alphabetic", "font": "DejaVu Sans", "fontSize": 26},
    "encoding": {"x": {"field": "T", "type": "quantitative", "scale": {"domain": [0, 300], "nice": false, "zero": false}, "axis": null}, "y": {"field": "v", "type": "quantitative", "scale": {"domain": [-150, 0], "nice": false, "zero": false}, "axis": null}, "text": {"field": "a"}, "color": {"field": "s", "type": "nominal", "scale": {"domain": ["Pb","Sn","k"], "range": ["#d62828","#1c1ca4","#222222"]}, "legend": null}}},
   {"data": {"name": "lab"}, "transform": [{"filter": "datum.p=='b' && datum.k=='f'"}], "mark": {"type": "text", "align": "left", "baseline": "alphabetic", "font": "DejaVu Sans", "fontSize": 21, "dx": 57.7, "dy": 6.5},
    "encoding": {"x": {"field": "T", "type": "quantitative", "scale": {"domain": [0, 300], "nice": false, "zero": false}, "axis": null}, "y": {"field": "v", "type": "quantitative", "scale": {"domain": [-150, 0], "nice": false, "zero": false}, "axis": null}, "text": {"field": "b"}, "color": {"field": "s", "type": "nominal", "scale": {"domain": ["Pb","Sn","k"], "range": ["#d62828","#1c1ca4","#222222"]}, "legend": null}}},
   {"data": {"name": "lab"}, "transform": [{"filter": "datum.p=='b' && datum.k=='f'"}], "mark": {"type": "text", "align": "left", "baseline": "alphabetic", "font": "DejaVu Sans", "fontSize": 26, "dx": 71.1},
    "encoding": {"x": {"field": "T", "type": "quantitative", "scale": {"domain": [0, 300], "nice": false, "zero": false}, "axis": null}, "y": {"field": "v", "type": "quantitative", "scale": {"domain": [-150, 0], "nice": false, "zero": false}, "axis": null}, "text": {"field": "c"}, "color": {"field": "s", "type": "nominal", "scale": {"domain": ["Pb","Sn","k"], "range": ["#d62828","#1c1ca4","#222222"]}, "legend": null}}},
   {"data": {"name": "lab"}, "transform": [{"filter": "datum.p=='b' && datum.s=='Pb'"}], "mark": {"type": "text", "align": "left", "baseline": "alphabetic", "font": "DejaVu Sans", "fontSize": 21, "dx": 98.8, "dy": 6.5, "color": "#d62828"},
    "encoding": {"x": {"field": "T", "type": "quantitative", "scale": {"domain": [0, 300], "nice": false, "zero": false}, "axis": null}, "y": {"field": "v", "type": "quantitative", "scale": {"domain": [-150, 0], "nice": false, "zero": false}, "axis": null}, "text": {"field": "d"}}},
   {"data": {"name": "lab"}, "transform": [{"filter": "datum.p=='b' && datum.s=='Sn'"}], "mark": {"type": "text", "align": "left", "baseline": "alphabetic", "font": "DejaVu Sans", "fontSize": 21, "dx": 103.6, "dy": 6.5, "color": "#1c1ca4"},
    "encoding": {"x": {"field": "T", "type": "quantitative", "scale": {"domain": [0, 300], "nice": false, "zero": false}, "axis": null}, "y": {"field": "v", "type": "quantitative", "scale": {"domain": [-150, 0], "nice": false, "zero": false}, "axis": null}, "text": {"field": "d"}}}
  ],
  "resolve": {"axis": {"x": "independent", "y": "independent"}}
 },
 {
  "width": 315, "height": 237, "data": {"name": "dc"},
  "layer": [
   {"data": {"name": "lab"}, "transform": [{"filter": "datum.p=='c' && datum.k=='l'"}], "mark": {"type": "text", "align": "left", "baseline": "alphabetic", "fontSize": 28, "color": "#222222"},
    "encoding": {"x": {"field": "T", "type": "quantitative", "scale": {"domain": [0, 300], "nice": false, "zero": false}, "axis": null}, "y": {"field": "v", "type": "quantitative", "scale": {"domain": [0, 40], "nice": false, "zero": false}, "axis": null}, "text": {"field": "t"}}},
   {"transform": [{"filter": "datum.s=='Pb'"}], "mark": {"type": "line", "color": "#c43030", "strokeWidth": 1},
    "encoding": {
     "x": {"field": "T", "type": "quantitative", "scale": {"domain": [0, 300], "nice": false, "zero": false}, "axis": {"orient": "bottom", "values": [0,50,100,150,200,250,300], "tickSize": 6, "tickColor": "#222222", "tickWidth": 1, "title": "Temperature (K)", "titleX": 157.5, "titleY": 41, "titleBaseline": "alphabetic", "titleAlign": "center"}},
     "y": {"field": "v", "type": "quantitative", "scale": {"domain": [0, 40], "nice": false, "zero": false}, "axis": {"orient": "left", "values": [0,5,10,15,20,25,30,35,40], "tickSize": 6, "tickColor": "#222222", "tickWidth": 1, "title": "Carrier Concentration × 10¹⁹ (cm⁻³)", "titleFontSize": 17.5, "titleX": -39, "titleY": 122, "titleBaseline": "alphabetic", "titleAlign": "center", "titleAngle": 270}}}},
   {"transform": [{"filter": "datum.s=='Sn'"}], "mark": {"type": "line", "color": "#2a2a9c", "strokeWidth": 1},
    "encoding": {
     "x": {"field": "T", "type": "quantitative", "scale": {"domain": [0, 300], "nice": false, "zero": false}, "axis": {"orient": "top", "values": [0,50,100,150,200,250,300], "tickSize": 6, "tickColor": "#222222", "tickWidth": 1, "labels": false, "title": null}},
     "y": {"field": "v", "type": "quantitative", "scale": {"domain": [0, 40], "nice": false, "zero": false}, "axis": {"orient": "right", "values": [0,5,10,15,20,25,30,35,40], "tickSize": 6, "tickColor": "#222222", "tickWidth": 1, "labels": false, "title": null}}}},
   {"mark": {"type": "point", "filled": true, "size": 14, "opacity": 1},
    "encoding": {
     "x": {"field": "T", "type": "quantitative", "scale": {"domain": [0, 300], "nice": false, "zero": false}, "axis": {"orient": "bottom", "values": [10,20,30,40,60,70,80,90,110,120,130,140,160,170,180,190,210,220,230,240,260,270,280,290], "labels": false, "title": null, "domain": false, "tickSize": 3, "tickColor": "#222222", "tickWidth": 1}},
     "y": {"field": "v", "type": "quantitative", "scale": {"domain": [0, 40], "nice": false, "zero": false}, "axis": {"orient": "left", "values": [1,2,3,4,6,7,8,9,11,12,13,14,16,17,18,19,21,22,23,24,26,27,28,29,31,32,33,34,36,37,38,39], "labels": false, "title": null, "domain": false, "tickSize": 3, "tickColor": "#222222", "tickWidth": 1}},
     "color": {"field": "s", "type": "nominal", "scale": {"domain": ["Pb","Sn","k"], "range": ["#d62828","#1c1ca4","#222222"]}, "legend": null}}},
   {"mark": {"type": "point", "opacity": 0},
    "encoding": {
     "x": {"field": "T", "type": "quantitative", "scale": {"domain": [0, 300], "nice": false, "zero": false}, "axis": {"orient": "top", "values": [10,20,30,40,60,70,80,90,110,120,130,140,160,170,180,190,210,220,230,240,260,270,280,290], "labels": false, "title": null, "domain": false, "tickSize": 3, "tickColor": "#222222", "tickWidth": 1}},
     "y": {"field": "v", "type": "quantitative", "scale": {"domain": [0, 40], "nice": false, "zero": false}, "axis": {"orient": "right", "values": [1,2,3,4,6,7,8,9,11,12,13,14,16,17,18,19,21,22,23,24,26,27,28,29,31,32,33,34,36,37,38,39], "labels": false, "title": null, "domain": false, "tickSize": 3, "tickColor": "#222222", "tickWidth": 1}}}},
   {"data": {"name": "lab"}, "transform": [{"filter": "datum.p=='c' && datum.k=='f'"}], "mark": {"type": "text", "align": "left", "baseline": "alphabetic", "font": "DejaVu Sans", "fontSize": 26},
    "encoding": {"x": {"field": "T", "type": "quantitative", "scale": {"domain": [0, 300], "nice": false, "zero": false}, "axis": null}, "y": {"field": "v", "type": "quantitative", "scale": {"domain": [0, 40], "nice": false, "zero": false}, "axis": null}, "text": {"field": "a"}, "color": {"field": "s", "type": "nominal", "scale": {"domain": ["Pb","Sn","k"], "range": ["#d62828","#1c1ca4","#222222"]}, "legend": null}}},
   {"data": {"name": "lab"}, "transform": [{"filter": "datum.p=='c' && datum.k=='f'"}], "mark": {"type": "text", "align": "left", "baseline": "alphabetic", "font": "DejaVu Sans", "fontSize": 21, "dx": 57.7, "dy": 6.5},
    "encoding": {"x": {"field": "T", "type": "quantitative", "scale": {"domain": [0, 300], "nice": false, "zero": false}, "axis": null}, "y": {"field": "v", "type": "quantitative", "scale": {"domain": [0, 40], "nice": false, "zero": false}, "axis": null}, "text": {"field": "b"}, "color": {"field": "s", "type": "nominal", "scale": {"domain": ["Pb","Sn","k"], "range": ["#d62828","#1c1ca4","#222222"]}, "legend": null}}},
   {"data": {"name": "lab"}, "transform": [{"filter": "datum.p=='c' && datum.k=='f'"}], "mark": {"type": "text", "align": "left", "baseline": "alphabetic", "font": "DejaVu Sans", "fontSize": 26, "dx": 71.1},
    "encoding": {"x": {"field": "T", "type": "quantitative", "scale": {"domain": [0, 300], "nice": false, "zero": false}, "axis": null}, "y": {"field": "v", "type": "quantitative", "scale": {"domain": [0, 40], "nice": false, "zero": false}, "axis": null}, "text": {"field": "c"}, "color": {"field": "s", "type": "nominal", "scale": {"domain": ["Pb","Sn","k"], "range": ["#d62828","#1c1ca4","#222222"]}, "legend": null}}},
   {"data": {"name": "lab"}, "transform": [{"filter": "datum.p=='c' && datum.s=='Pb'"}], "mark": {"type": "text", "align": "left", "baseline": "alphabetic", "font": "DejaVu Sans", "fontSize": 21, "dx": 98.8, "dy": 6.5, "color": "#d62828"},
    "encoding": {"x": {"field": "T", "type": "quantitative", "scale": {"domain": [0, 300], "nice": false, "zero": false}, "axis": null}, "y": {"field": "v", "type": "quantitative", "scale": {"domain": [0, 40], "nice": false, "zero": false}, "axis": null}, "text": {"field": "d"}}},
   {"data": {"name": "lab"}, "transform": [{"filter": "datum.p=='c' && datum.s=='Sn'"}], "mark": {"type": "text", "align": "left", "baseline": "alphabetic", "font": "DejaVu Sans", "fontSize": 21, "dx": 103.6, "dy": 6.5, "color": "#1c1ca4"},
    "encoding": {"x": {"field": "T", "type": "quantitative", "scale": {"domain": [0, 300], "nice": false, "zero": false}, "axis": null}, "y": {"field": "v", "type": "quantitative", "scale": {"domain": [0, 40], "nice": false, "zero": false}, "axis": null}, "text": {"field": "d"}}},
   {"data": {"name": "ins"}, "mark": {"type": "line", "color": "#b83232", "strokeWidth": 1},
    "encoding": {
     "x": {"field": "B", "type": "quantitative", "scale": {"domain": [-2, 2], "range": [54, 219.3], "nice": false, "zero": false}, "axis": {"orient": "bottom", "offset": -101, "values": [-2,-1,0,1,2], "labelExpr": "replace(datum.label,'−','-')", "tickSize": 5, "tickColor": "#222222", "tickWidth": 1, "labelPadding": 3, "labelFontSize": 18, "titleFontSize": 19, "title": "Magnetic Field (T)", "titleX": 136.6, "titleY": 39, "titleBaseline": "alphabetic", "titleAlign": "center"}},
     "y": {"field": "V", "type": "quantitative", "scale": {"domain": [-2, 2], "range": [136, 41.2], "nice": false, "zero": false}, "axis": {"orient": "left", "offset": -54, "values": [-2,0,2], "labelExpr": "replace(datum.label,'−','-')", "tickSize": 5, "tickColor": "#222222", "tickWidth": 1, "labelPadding": 1, "labelFontSize": 18, "title": null}}}},
   {"data": {"name": "ins"}, "mark": {"type": "point", "filled": true, "size": 12, "color": "#c62828", "opacity": 1},
    "encoding": {
     "x": {"field": "B", "type": "quantitative", "scale": {"domain": [-2, 2], "range": [54, 219.3], "nice": false, "zero": false}, "axis": {"orient": "top", "offset": -41.2, "values": [-2,-1,0,1,2], "tickSize": 5, "tickColor": "#222222", "tickWidth": 1, "labels": false, "title": null}},
     "y": {"field": "V", "type": "quantitative", "scale": {"domain": [-2, 2], "range": [136, 41.2], "nice": false, "zero": false}, "axis": {"orient": "right", "offset": -95.7, "values": [-2,0,2], "tickSize": 5, "tickColor": "#222222", "tickWidth": 1, "labels": false, "title": null}}}},
   {"data": {"name": "ins"}, "mark": {"type": "point", "opacity": 0},
    "encoding": {
     "x": {"field": "B", "type": "quantitative", "scale": {"domain": [-2, 2], "range": [54, 219.3], "nice": false, "zero": false}, "axis": {"orient": "bottom", "offset": -101, "values": [-1.8,-1.6,-1.4,-1.2,-0.8,-0.6,-0.4,-0.2,0.2,0.4,0.6,0.8,1.2,1.4,1.6,1.8], "tickSize": 3, "tickColor": "#222222", "tickWidth": 1, "labels": false, "domain": false, "title": null}},
     "y": {"field": "V", "type": "quantitative", "scale": {"domain": [-2, 2], "range": [136, 41.2], "nice": false, "zero": false}, "axis": {"orient": "left", "offset": -54, "values": [-1.8,-1.6,-1.4,-1.2,-1,-0.8,-0.6,-0.4,-0.2,0.2,0.4,0.6,0.8,1,1.2,1.4,1.6,1.8], "tickSize": 3, "tickColor": "#222222", "tickWidth": 1, "labels": false, "domain": false, "title": null}}}},
   {"data": {"name": "ins"}, "mark": {"type": "point", "opacity": 0},
    "encoding": {
     "x": {"field": "B", "type": "quantitative", "scale": {"domain": [-2, 2], "range": [54, 219.3], "nice": false, "zero": false}, "axis": {"orient": "top", "offset": -41.2, "values": [-1.8,-1.6,-1.4,-1.2,-0.8,-0.6,-0.4,-0.2,0.2,0.4,0.6,0.8,1.2,1.4,1.6,1.8], "tickSize": 3, "tickColor": "#222222", "tickWidth": 1, "labels": false, "domain": false, "title": null}},
     "y": {"field": "V", "type": "quantitative", "scale": {"domain": [-2, 2], "range": [136, 41.2], "nice": false, "zero": false}, "axis": {"orient": "right", "offset": -95.7, "values": [-1.8,-1.6,-1.4,-1.2,-1,-0.8,-0.6,-0.4,-0.2,0.2,0.4,0.6,0.8,1,1.2,1.4,1.6,1.8], "tickSize": 3, "tickColor": "#222222", "tickWidth": 1, "labels": false, "domain": false, "title": null}}}},
   {"data": {"name": "insf"}, "mark": {"type": "text", "align": "left", "baseline": "alphabetic", "font": "DejaVu Sans", "fontSize": 19, "color": "#d62828"},
    "encoding": {"x": {"field": "B", "type": "quantitative", "scale": {"domain": [-2, 2], "range": [54, 219.3], "nice": false, "zero": false}, "axis": null}, "y": {"field": "V", "type": "quantitative", "scale": {"domain": [-2, 2], "range": [136, 41.2], "nice": false, "zero": false}, "axis": null}, "text": {"field": "a"}}},
   {"data": {"name": "insf"}, "mark": {"type": "text", "align": "left", "baseline": "alphabetic", "font": "DejaVu Sans", "fontSize": 15, "dx": 41.8, "dy": 4.5, "color": "#d62828"},
    "encoding": {"x": {"field": "B", "type": "quantitative", "scale": {"domain": [-2, 2], "range": [54, 219.3], "nice": false, "zero": false}, "axis": null}, "y": {"field": "V", "type": "quantitative", "scale": {"domain": [-2, 2], "range": [136, 41.2], "nice": false, "zero": false}, "axis": null}, "text": {"field": "b"}}},
   {"data": {"name": "insf"}, "mark": {"type": "text", "align": "left", "baseline": "alphabetic", "font": "DejaVu Sans", "fontSize": 19, "dx": 51.3, "color": "#d62828"},
    "encoding": {"x": {"field": "B", "type": "quantitative", "scale": {"domain": [-2, 2], "range": [54, 219.3], "nice": false, "zero": false}, "axis": null}, "y": {"field": "V", "type": "quantitative", "scale": {"domain": [-2, 2], "range": [136, 41.2], "nice": false, "zero": false}, "axis": null}, "text": {"field": "c"}}},
   {"data": {"name": "insf"}, "mark": {"type": "text", "align": "left", "baseline": "alphabetic", "font": "DejaVu Sans", "fontSize": 15, "dx": 71.3, "dy": 4.5, "color": "#d62828"},
    "encoding": {"x": {"field": "B", "type": "quantitative", "scale": {"domain": [-2, 2], "range": [54, 219.3], "nice": false, "zero": false}, "axis": null}, "y": {"field": "V", "type": "quantitative", "scale": {"domain": [-2, 2], "range": [136, 41.2], "nice": false, "zero": false}, "axis": null}, "text": {"field": "d"}}},
   {"data": {"name": "insk"}, "mark": {"type": "text", "align": "center", "baseline": "alphabetic", "font": "DejaVu Sans", "fontSize": 19, "color": "#d62828"},
    "encoding": {"x": {"field": "B", "type": "quantitative", "scale": {"domain": [-2, 2], "range": [54, 219.3], "nice": false, "zero": false}, "axis": null}, "y": {"field": "V", "type": "quantitative", "scale": {"domain": [-2, 2], "range": [136, 41.2], "nice": false, "zero": false}, "axis": null}, "text": {"field": "t"}}},
   {"data": {"name": "vh"}, "mark": {"type": "text", "align": "left", "baseline": "alphabetic", "angle": 270, "fontSize": 20, "color": "#333333"},
    "encoding": {"x": {"field": "B", "type": "quantitative", "scale": {"domain": [-2, 2], "range": [54, 219.3], "nice": false, "zero": false}, "axis": null}, "y": {"field": "V", "type": "quantitative", "scale": {"domain": [-2, 2], "range": [136, 41.2], "nice": false, "zero": false}, "axis": null}, "text": {"field": "t"}}},
   {"data": {"name": "vhs"}, "mark": {"type": "text", "align": "left", "baseline": "alphabetic", "angle": 270, "fontSize": 13, "color": "#333333"},
    "encoding": {"x": {"field": "B", "type": "quantitative", "scale": {"domain": [-2, 2], "range": [54, 219.3], "nice": false, "zero": false}, "axis": null}, "y": {"field": "V", "type": "quantitative", "scale": {"domain": [-2, 2], "range": [136, 41.2], "nice": false, "zero": false}, "axis": null}, "text": {"field": "t"}}}
  ],
  "resolve": {"scale": {"x": "independent", "y": "independent"}, "axis": {"x": "independent", "y": "independent"}}
 },
 {
  "width": 305, "height": 238, "data": {"name": "dd"},
  "layer": [
   {"data": {"name": "lab"}, "transform": [{"filter": "datum.p=='d' && datum.k=='l'"}], "mark": {"type": "text", "align": "left", "baseline": "alphabetic", "fontSize": 28, "color": "#222222"},
    "encoding": {"x": {"field": "T", "type": "quantitative", "scale": {"domain": [0, 300], "nice": false, "zero": false}, "axis": null}, "y": {"field": "v", "type": "quantitative", "scale": {"domain": [0.5, 3], "nice": false, "zero": false}, "axis": null}, "text": {"field": "t"}}},
   {"transform": [{"filter": "datum.s=='Pb'"}], "mark": {"type": "line", "color": "#d62828", "strokeWidth": 1.2},
    "encoding": {
     "x": {"field": "T", "type": "quantitative", "scale": {"domain": [0, 300], "nice": false, "zero": false}, "axis": {"orient": "bottom", "values": [0,50,100,150,200,250,300], "tickSize": 6, "tickColor": "#222222", "tickWidth": 1, "title": "Temperature (K)", "titleX": 152.5, "titleY": 41, "titleBaseline": "alphabetic", "titleAlign": "center"}},
     "y": {"field": "v", "type": "quantitative", "scale": {"domain": [0.5, 3], "nice": false, "zero": false}, "axis": {"orient": "left", "values": [0.5,1,1.5,2,2.5,3], "tickSize": 6, "tickColor": "#222222", "tickWidth": 1, "format": "~g", "title": "Thermal Conductivity (W/K · m)", "titleX": -45.6, "titleY": 119, "titleBaseline": "alphabetic", "titleAlign": "center", "titleAngle": 270}}}},
   {"transform": [{"filter": "datum.s=='Sn'"}], "mark": {"type": "line", "color": "#1c1ca4", "strokeWidth": 1.2},
    "encoding": {
     "x": {"field": "T", "type": "quantitative", "scale": {"domain": [0, 300], "nice": false, "zero": false}, "axis": {"orient": "top", "values": [0,50,100,150,200,250,300], "tickSize": 6, "tickColor": "#222222", "tickWidth": 1, "labels": false, "title": null}},
     "y": {"field": "v", "type": "quantitative", "scale": {"domain": [0.5, 3], "nice": false, "zero": false}, "axis": {"orient": "right", "values": [0.5,1,1.5,2,2.5,3], "tickSize": 6, "tickColor": "#222222", "tickWidth": 1, "labels": false, "title": null}}}},
   {"mark": {"type": "point", "filled": true, "size": 10, "opacity": 1},
    "encoding": {
     "x": {"field": "T", "type": "quantitative", "scale": {"domain": [0, 300], "nice": false, "zero": false}, "axis": {"orient": "bottom", "values": [10,20,30,40,60,70,80,90,110,120,130,140,160,170,180,190,210,220,230,240,260,270,280,290], "labels": false, "title": null, "domain": false, "tickSize": 3, "tickColor": "#222222", "tickWidth": 1}},
     "y": {"field": "v", "type": "quantitative", "scale": {"domain": [0.5, 3], "nice": false, "zero": false}, "axis": {"orient": "left", "values": [0.6,0.7,0.8,0.9,1.1,1.2,1.3,1.4,1.6,1.7,1.8,1.9,2.1,2.2,2.3,2.4,2.6,2.7,2.8,2.9], "labels": false, "title": null, "domain": false, "tickSize": 3, "tickColor": "#222222", "tickWidth": 1}},
     "color": {"field": "s", "type": "nominal", "scale": {"domain": ["Pb","Sn","k"], "range": ["#d62828","#1c1ca4","#222222"]}, "legend": null}}},
   {"mark": {"type": "point", "opacity": 0},
    "encoding": {
     "x": {"field": "T", "type": "quantitative", "scale": {"domain": [0, 300], "nice": false, "zero": false}, "axis": {"orient": "top", "values": [10,20,30,40,60,70,80,90,110,120,130,140,160,170,180,190,210,220,230,240,260,270,280,290], "labels": false, "title": null, "domain": false, "tickSize": 3, "tickColor": "#222222", "tickWidth": 1}},
     "y": {"field": "v", "type": "quantitative", "scale": {"domain": [0.5, 3], "nice": false, "zero": false}, "axis": {"orient": "right", "values": [0.6,0.7,0.8,0.9,1.1,1.2,1.3,1.4,1.6,1.7,1.8,1.9,2.1,2.2,2.3,2.4,2.6,2.7,2.8,2.9], "labels": false, "title": null, "domain": false, "tickSize": 3, "tickColor": "#222222", "tickWidth": 1}}}},
   {"data": {"name": "lab"}, "transform": [{"filter": "datum.p=='d' && datum.k=='f'"}], "mark": {"type": "text", "align": "left", "baseline": "alphabetic", "font": "DejaVu Sans", "fontSize": 26},
    "encoding": {"x": {"field": "T", "type": "quantitative", "scale": {"domain": [0, 300], "nice": false, "zero": false}, "axis": null}, "y": {"field": "v", "type": "quantitative", "scale": {"domain": [0.5, 3], "nice": false, "zero": false}, "axis": null}, "text": {"field": "a"}, "color": {"field": "s", "type": "nominal", "scale": {"domain": ["Pb","Sn","k"], "range": ["#d62828","#1c1ca4","#222222"]}, "legend": null}}},
   {"data": {"name": "lab"}, "transform": [{"filter": "datum.p=='d' && datum.k=='f'"}], "mark": {"type": "text", "align": "left", "baseline": "alphabetic", "font": "DejaVu Sans", "fontSize": 21, "dx": 57.7, "dy": 6.5},
    "encoding": {"x": {"field": "T", "type": "quantitative", "scale": {"domain": [0, 300], "nice": false, "zero": false}, "axis": null}, "y": {"field": "v", "type": "quantitative", "scale": {"domain": [0.5, 3], "nice": false, "zero": false}, "axis": null}, "text": {"field": "b"}, "color": {"field": "s", "type": "nominal", "scale": {"domain": ["Pb","Sn","k"], "range": ["#d62828","#1c1ca4","#222222"]}, "legend": null}}},
   {"data": {"name": "lab"}, "transform": [{"filter": "datum.p=='d' && datum.k=='f'"}], "mark": {"type": "text", "align": "left", "baseline": "alphabetic", "font": "DejaVu Sans", "fontSize": 26, "dx": 71.1},
    "encoding": {"x": {"field": "T", "type": "quantitative", "scale": {"domain": [0, 300], "nice": false, "zero": false}, "axis": null}, "y": {"field": "v", "type": "quantitative", "scale": {"domain": [0.5, 3], "nice": false, "zero": false}, "axis": null}, "text": {"field": "c"}, "color": {"field": "s", "type": "nominal", "scale": {"domain": ["Pb","Sn","k"], "range": ["#d62828","#1c1ca4","#222222"]}, "legend": null}}},
   {"data": {"name": "lab"}, "transform": [{"filter": "datum.p=='d' && datum.s=='Pb'"}], "mark": {"type": "text", "align": "left", "baseline": "alphabetic", "font": "DejaVu Sans", "fontSize": 21, "dx": 98.8, "dy": 6.5, "color": "#d62828"},
    "encoding": {"x": {"field": "T", "type": "quantitative", "scale": {"domain": [0, 300], "nice": false, "zero": false}, "axis": null}, "y": {"field": "v", "type": "quantitative", "scale": {"domain": [0.5, 3], "nice": false, "zero": false}, "axis": null}, "text": {"field": "d"}}},
   {"data": {"name": "lab"}, "transform": [{"filter": "datum.p=='d' && datum.s=='Sn'"}], "mark": {"type": "text", "align": "left", "baseline": "alphabetic", "font": "DejaVu Sans", "fontSize": 21, "dx": 103.6, "dy": 6.5, "color": "#1c1ca4"},
    "encoding": {"x": {"field": "T", "type": "quantitative", "scale": {"domain": [0, 300], "nice": false, "zero": false}, "axis": null}, "y": {"field": "v", "type": "quantitative", "scale": {"domain": [0.5, 3], "nice": false, "zero": false}, "axis": null}, "text": {"field": "d"}}}
  ],
  "resolve": {"axis": {"x": "independent", "y": "independent"}}
 },
 {
  "width": 318, "height": 238, "data": {"name": "de"},
  "layer": [
   {"data": {"name": "lab"}, "transform": [{"filter": "datum.p=='e' && datum.k=='l'"}], "mark": {"type": "text", "align": "left", "baseline": "alphabetic", "fontSize": 28, "color": "#222222"},
    "encoding": {"x": {"field": "T", "type": "quantitative", "scale": {"domain": [0, 300], "nice": false, "zero": false}, "axis": null}, "y": {"field": "v", "type": "quantitative", "scale": {"type": "log", "domain": [0.01, 100], "nice": false}, "axis": null}, "text": {"field": "t"}}},
   {"transform": [{"filter": "datum.s=='Pb'"}], "mark": {"type": "line", "color": "#d62828", "strokeWidth": 1.2},
    "encoding": {
     "x": {"field": "T", "type": "quantitative", "scale": {"domain": [0, 300], "nice": false, "zero": false}, "axis": {"orient": "bottom", "values": [0,50,100,150,200,250,300], "tickSize": 6, "tickColor": "#222222", "tickWidth": 1, "title": "Temperature (K)", "titleX": 159, "titleY": 41, "titleBaseline": "alphabetic", "titleAlign": "center"}},
     "y": {"field": "v", "type": "quantitative", "scale": {"type": "log", "domain": [0.01, 100], "nice": false}, "axis": {"orient": "left", "values": [0.01,0.1,1,10,100], "tickSize": 6, "tickColor": "#222222", "tickWidth": 1, "format": "~g", "title": "Power Factor (μW/m¹k²)", "titleX": -41.7, "titleY": 119, "titleBaseline": "alphabetic", "titleAlign": "center", "titleAngle": 270}}}},
   {"transform": [{"filter": "datum.s=='Sn'"}], "mark": {"type": "line", "color": "#1c1ca4", "strokeWidth": 1.2},
    "encoding": {
     "x": {"field": "T", "type": "quantitative", "scale": {"domain": [0, 300], "nice": false, "zero": false}, "axis": {"orient": "top", "values": [0,50,100,150,200,250,300], "tickSize": 6, "tickColor": "#222222", "tickWidth": 1, "labels": false, "title": null}},
     "y": {"field": "v", "type": "quantitative", "scale": {"type": "log", "domain": [0.01, 100], "nice": false}, "axis": {"orient": "right", "values": [0.01,0.1,1,10,100], "tickSize": 6, "tickColor": "#222222", "tickWidth": 1, "labels": false, "title": null}}}},
   {"mark": {"type": "point", "filled": true, "size": 10, "opacity": 1},
    "encoding": {
     "x": {"field": "T", "type": "quantitative", "scale": {"domain": [0, 300], "nice": false, "zero": false}, "axis": {"orient": "bottom", "values": [10,20,30,40,60,70,80,90,110,120,130,140,160,170,180,190,210,220,230,240,260,270,280,290], "labels": false, "title": null, "domain": false, "tickSize": 3, "tickColor": "#222222", "tickWidth": 1}},
     "y": {"field": "v", "type": "quantitative", "scale": {"type": "log", "domain": [0.01, 100], "nice": false}, "axis": {"orient": "left", "values": [0.02,0.03,0.04,0.05,0.06,0.07,0.08,0.09,0.2,0.3,0.4,0.5,0.6,0.7,0.8,0.9,2,3,4,5,6,7,8,9,20,30,40,50,60,70,80,90], "labels": false, "title": null, "domain": false, "tickSize": 3, "tickColor": "#222222", "tickWidth": 1}},
     "color": {"field": "s", "type": "nominal", "scale": {"domain": ["Pb","Sn","k"], "range": ["#d62828","#1c1ca4","#222222"]}, "legend": null}}},
   {"mark": {"type": "point", "opacity": 0},
    "encoding": {
     "x": {"field": "T", "type": "quantitative", "scale": {"domain": [0, 300], "nice": false, "zero": false}, "axis": {"orient": "top", "values": [10,20,30,40,60,70,80,90,110,120,130,140,160,170,180,190,210,220,230,240,260,270,280,290], "labels": false, "title": null, "domain": false, "tickSize": 3, "tickColor": "#222222", "tickWidth": 1}},
     "y": {"field": "v", "type": "quantitative", "scale": {"type": "log", "domain": [0.01, 100], "nice": false}, "axis": {"orient": "right", "values": [0.02,0.03,0.04,0.05,0.06,0.07,0.08,0.09,0.2,0.3,0.4,0.5,0.6,0.7,0.8,0.9,2,3,4,5,6,7,8,9,20,30,40,50,60,70,80,90], "labels": false, "title": null, "domain": false, "tickSize": 3, "tickColor": "#222222", "tickWidth": 1}}}},
   {"data": {"name": "lab"}, "transform": [{"filter": "datum.p=='e' && datum.k=='f'"}], "mark": {"type": "text", "align": "left", "baseline": "alphabetic", "font": "DejaVu Sans", "fontSize": 26},
    "encoding": {"x": {"field": "T", "type": "quantitative", "scale": {"domain": [0, 300], "nice": false, "zero": false}, "axis": null}, "y": {"field": "v", "type": "quantitative", "scale": {"type": "log", "domain": [0.01, 100], "nice": false}, "axis": null}, "text": {"field": "a"}, "color": {"field": "s", "type": "nominal", "scale": {"domain": ["Pb","Sn","k"], "range": ["#d62828","#1c1ca4","#222222"]}, "legend": null}}},
   {"data": {"name": "lab"}, "transform": [{"filter": "datum.p=='e' && datum.k=='f'"}], "mark": {"type": "text", "align": "left", "baseline": "alphabetic", "font": "DejaVu Sans", "fontSize": 21, "dx": 57.7, "dy": 6.5},
    "encoding": {"x": {"field": "T", "type": "quantitative", "scale": {"domain": [0, 300], "nice": false, "zero": false}, "axis": null}, "y": {"field": "v", "type": "quantitative", "scale": {"type": "log", "domain": [0.01, 100], "nice": false}, "axis": null}, "text": {"field": "b"}, "color": {"field": "s", "type": "nominal", "scale": {"domain": ["Pb","Sn","k"], "range": ["#d62828","#1c1ca4","#222222"]}, "legend": null}}},
   {"data": {"name": "lab"}, "transform": [{"filter": "datum.p=='e' && datum.k=='f'"}], "mark": {"type": "text", "align": "left", "baseline": "alphabetic", "font": "DejaVu Sans", "fontSize": 26, "dx": 71.1},
    "encoding": {"x": {"field": "T", "type": "quantitative", "scale": {"domain": [0, 300], "nice": false, "zero": false}, "axis": null}, "y": {"field": "v", "type": "quantitative", "scale": {"type": "log", "domain": [0.01, 100], "nice": false}, "axis": null}, "text": {"field": "c"}, "color": {"field": "s", "type": "nominal", "scale": {"domain": ["Pb","Sn","k"], "range": ["#d62828","#1c1ca4","#222222"]}, "legend": null}}},
   {"data": {"name": "lab"}, "transform": [{"filter": "datum.p=='e' && datum.s=='Pb'"}], "mark": {"type": "text", "align": "left", "baseline": "alphabetic", "font": "DejaVu Sans", "fontSize": 21, "dx": 98.8, "dy": 6.5, "color": "#d62828"},
    "encoding": {"x": {"field": "T", "type": "quantitative", "scale": {"domain": [0, 300], "nice": false, "zero": false}, "axis": null}, "y": {"field": "v", "type": "quantitative", "scale": {"type": "log", "domain": [0.01, 100], "nice": false}, "axis": null}, "text": {"field": "d"}}},
   {"data": {"name": "lab"}, "transform": [{"filter": "datum.p=='e' && datum.s=='Sn'"}], "mark": {"type": "text", "align": "left", "baseline": "alphabetic", "font": "DejaVu Sans", "fontSize": 21, "dx": 103.6, "dy": 6.5, "color": "#1c1ca4"},
    "encoding": {"x": {"field": "T", "type": "quantitative", "scale": {"domain": [0, 300], "nice": false, "zero": false}, "axis": null}, "y": {"field": "v", "type": "quantitative", "scale": {"type": "log", "domain": [0.01, 100], "nice": false}, "axis": null}, "text": {"field": "d"}}}
  ],
  "resolve": {"axis": {"x": "independent", "y": "independent"}}
 },
 {
  "width": 313, "height": 238, "data": {"name": "df"},
  "layer": [
   {"data": {"name": "lab"}, "transform": [{"filter": "datum.p=='f' && datum.k=='l'"}], "mark": {"type": "text", "align": "left", "baseline": "alphabetic", "fontSize": 28, "color": "#222222"},
    "encoding": {"x": {"field": "T", "type": "quantitative", "scale": {"domain": [0, 300], "nice": false, "zero": false}, "axis": null}, "y": {"field": "v", "type": "quantitative", "scale": {"domain": [0, 0.02], "nice": false, "zero": false}, "axis": null}, "text": {"field": "t"}}},
   {"transform": [{"filter": "datum.s=='Pb'"}], "mark": {"type": "line", "color": "#d62828", "strokeWidth": 1.2},
    "encoding": {
     "x": {"field": "T", "type": "quantitative", "scale": {"domain": [0, 300], "nice": false, "zero": false}, "axis": {"orient": "bottom", "values": [0,50,100,150,200,250,300], "tickSize": 6, "tickColor": "#222222", "tickWidth": 1, "title": "Temperature (K)", "titleX": 156.5, "titleY": 41, "titleBaseline": "alphabetic", "titleAlign": "center"}},
     "y": {"field": "v", "type": "quantitative", "scale": {"domain": [0, 0.02], "nice": false, "zero": false}, "axis": {"orient": "left", "values": [0,0.005,0.01,0.015,0.02], "tickSize": 6, "tickColor": "#222222", "tickWidth": 1, "format": "~g", "title": "Figure of Merit ZT", "titleX": -59.7, "titleY": 119, "titleBaseline": "alphabetic", "titleAlign": "center", "titleAngle": 270}}}},
   {"transform": [{"filter": "datum.s=='Sn'"}], "mark": {"type": "line", "color": "#1c1ca4", "strokeWidth": 1.2},
    "encoding": {
     "x": {"field": "T", "type": "quantitative", "scale": {"domain": [0, 300], "nice": false, "zero": false}, "axis": {"orient": "top", "values": [0,50,100,150,200,250,300], "tickSize": 6, "tickColor": "#222222", "tickWidth": 1, "labels": false, "title": null}},
     "y": {"field": "v", "type": "quantitative", "scale": {"domain": [0, 0.02], "nice": false, "zero": false}, "axis": {"orient": "right", "values": [0,0.005,0.01,0.015,0.02], "tickSize": 6, "tickColor": "#222222", "tickWidth": 1, "labels": false, "title": null}}}},
   {"mark": {"type": "point", "filled": true, "size": 10, "opacity": 1},
    "encoding": {
     "x": {"field": "T", "type": "quantitative", "scale": {"domain": [0, 300], "nice": false, "zero": false}, "axis": {"orient": "bottom", "values": [10,20,30,40,60,70,80,90,110,120,130,140,160,170,180,190,210,220,230,240,260,270,280,290], "labels": false, "title": null, "domain": false, "tickSize": 3, "tickColor": "#222222", "tickWidth": 1}},
     "y": {"field": "v", "type": "quantitative", "scale": {"domain": [0, 0.02], "nice": false, "zero": false}, "axis": {"orient": "left", "values": [0.001,0.002,0.003,0.004,0.006,0.007,0.008,0.009,0.011,0.012,0.013,0.014,0.016,0.017,0.018,0.019], "labels": false, "title": null, "domain": false, "tickSize": 3, "tickColor": "#222222", "tickWidth": 1}},
     "color": {"field": "s", "type": "nominal", "scale": {"domain": ["Pb","Sn","k"], "range": ["#d62828","#1c1ca4","#222222"]}, "legend": null}}},
   {"mark": {"type": "point", "opacity": 0},
    "encoding": {
     "x": {"field": "T", "type": "quantitative", "scale": {"domain": [0, 300], "nice": false, "zero": false}, "axis": {"orient": "top", "values": [10,20,30,40,60,70,80,90,110,120,130,140,160,170,180,190,210,220,230,240,260,270,280,290], "labels": false, "title": null, "domain": false, "tickSize": 3, "tickColor": "#222222", "tickWidth": 1}},
     "y": {"field": "v", "type": "quantitative", "scale": {"domain": [0, 0.02], "nice": false, "zero": false}, "axis": {"orient": "right", "values": [0.001,0.002,0.003,0.004,0.006,0.007,0.008,0.009,0.011,0.012,0.013,0.014,0.016,0.017,0.018,0.019], "labels": false, "title": null, "domain": false, "tickSize": 3, "tickColor": "#222222", "tickWidth": 1}}}},
   {"data": {"name": "lab"}, "transform": [{"filter": "datum.p=='f' && datum.k=='f'"}], "mark": {"type": "text", "align": "left", "baseline": "alphabetic", "font": "DejaVu Sans", "fontSize": 26},
    "encoding": {"x": {"field": "T", "type": "quantitative", "scale": {"domain": [0, 300], "nice": false, "zero": false}, "axis": null}, "y": {"field": "v", "type": "quantitative", "scale": {"domain": [0, 0.02], "nice": false, "zero": false}, "axis": null}, "text": {"field": "a"}, "color": {"field": "s", "type": "nominal", "scale": {"domain": ["Pb","Sn","k"], "range": ["#d62828","#1c1ca4","#222222"]}, "legend": null}}},
   {"data": {"name": "lab"}, "transform": [{"filter": "datum.p=='f' && datum.k=='f'"}], "mark": {"type": "text", "align": "left", "baseline": "alphabetic", "font": "DejaVu Sans", "fontSize": 21, "dx": 57.7, "dy": 6.5},
    "encoding": {"x": {"field": "T", "type": "quantitative", "scale": {"domain": [0, 300], "nice": false, "zero": false}, "axis": null}, "y": {"field": "v", "type": "quantitative", "scale": {"domain": [0, 0.02], "nice": false, "zero": false}, "axis": null}, "text": {"field": "b"}, "color": {"field": "s", "type": "nominal", "scale": {"domain": ["Pb","Sn","k"], "range": ["#d62828","#1c1ca4","#222222"]}, "legend": null}}},
   {"data": {"name": "lab"}, "transform": [{"filter": "datum.p=='f' && datum.k=='f'"}], "mark": {"type": "text", "align": "left", "baseline": "alphabetic", "font": "DejaVu Sans", "fontSize": 26, "dx": 71.1},
    "encoding": {"x": {"field": "T", "type": "quantitative", "scale": {"domain": [0, 300], "nice": false, "zero": false}, "axis": null}, "y": {"field": "v", "type": "quantitative", "scale": {"domain": [0, 0.02], "nice": false, "zero": false}, "axis": null}, "text": {"field": "c"}, "color": {"field": "s", "type": "nominal", "scale": {"domain": ["Pb","Sn","k"], "range": ["#d62828","#1c1ca4","#222222"]}, "legend": null}}},
   {"data": {"name": "lab"}, "transform": [{"filter": "datum.p=='f' && datum.s=='Pb'"}], "mark": {"type": "text", "align": "left", "baseline": "alphabetic", "font": "DejaVu Sans", "fontSize": 21, "dx": 98.8, "dy": 6.5, "color": "#d62828"},
    "encoding": {"x": {"field": "T", "type": "quantitative", "scale": {"domain": [0, 300], "nice": false, "zero": false}, "axis": null}, "y": {"field": "v", "type": "quantitative", "scale": {"domain": [0, 0.02], "nice": false, "zero": false}, "axis": null}, "text": {"field": "d"}}},
   {"data": {"name": "lab"}, "transform": [{"filter": "datum.p=='f' && datum.s=='Sn'"}], "mark": {"type": "text", "align": "left", "baseline": "alphabetic", "font": "DejaVu Sans", "fontSize": 21, "dx": 103.6, "dy": 6.5, "color": "#1c1ca4"},
    "encoding": {"x": {"field": "T", "type": "quantitative", "scale": {"domain": [0, 300], "nice": false, "zero": false}, "axis": null}, "y": {"field": "v", "type": "quantitative", "scale": {"domain": [0, 0.02], "nice": false, "zero": false}, "axis": null}, "text": {"field": "d"}}}
  ],
  "resolve": {"axis": {"x": "independent", "y": "independent"}}
 }
],
"columns": 3,
"align": "none",
"bounds": "flush",
"spacing": {"row": 73, "column": 78}
}
